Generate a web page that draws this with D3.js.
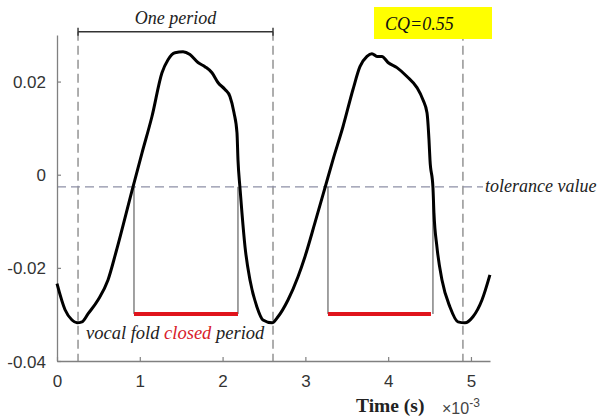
<!DOCTYPE html>
<html><head><meta charset="utf-8">
<script src="https://cdn.jsdelivr.net/npm/d3@7"></script>
<style>
html,body{margin:0;padding:0;background:#fff;}
svg{display:block;}
</style></head>
<body><svg id="c" width="601" height="418"></svg>
<script>
// time in units of 1e-3 s
const timeMs = [0,0.097,0.181,0.242,0.302,0.374,0.495,0.616,0.713,0.918,1.027,1.147,1.268,1.341,1.425,1.522,1.606,1.703,1.787,1.872,1.944,2.029,2.089,2.138,2.174,2.186,2.210,2.234,2.271,2.331,2.415,2.488,2.597,2.669,2.790,2.911,2.995,3.116,3.237,3.333,3.454,3.575,3.659,3.744,3.804,3.865,3.925,3.998,4.106,4.227,4.348,4.420,4.469,4.493,4.505,4.541,4.553,4.589,4.650,4.746,4.843,4.928,5.024,5.133,5.229];
const signal = [-0.0234,-0.0290,-0.0312,-0.0318,-0.0316,-0.0299,-0.0269,-0.0226,-0.0166,-0.0026,0.0047,0.0125,0.0219,0.0247,0.0262,0.0264,0.0258,0.0241,0.0232,0.0219,0.0198,0.0183,0.0168,0.0133,0.0090,0.0032,-0.0028,-0.0082,-0.0155,-0.0226,-0.0284,-0.0312,-0.0318,-0.0305,-0.0269,-0.0219,-0.0176,-0.0103,-0.0028,0.0032,0.0103,0.0183,0.0232,0.0254,0.0260,0.0254,0.0254,0.0241,0.0230,0.0211,0.0187,0.0161,0.0133,0.0075,0.0032,-0.0028,-0.0082,-0.0155,-0.0226,-0.0284,-0.0316,-0.0318,-0.0305,-0.0269,-0.0215];
const xTicks = [0,1,2,3,4,5];
const xTickLabels = ["0","1","2","3","4","5"];
const yTicks = [-0.04,-0.02,0,0.02];
const yTickLabels = ["-0.04","-0.02","0","0.02"];
const periodMarks = [0.254, 2.609, 4.903];
const closedStarts = [0.93, 3.273];
const closedEnds = [2.186, 4.541];
const closedBarEnds = [2.186, 4.517];
const toleranceValue = -0.0026;
const closedBarValue = -0.0299;
const bracketValue = 0.0307;

const svg = d3.select("#c");
const x = d3.scaleLinear().domain([0, 5.23]).range([57, 490]);
const y = d3.scaleLinear().domain([-0.04, 0.03]).range([361, 35]);
const axisCol = "#808080";
const labCol = "#333";

// period dashed verticals
svg.selectAll(".pm").data(periodMarks).enter().append("line")
  .attr("x1", d => x(d)).attr("x2", d => x(d))
  .attr("y1", y(bracketValue)).attr("y2", y(-0.04))
  .attr("stroke", "#8c8c8c").attr("stroke-width", 1.4).attr("stroke-dasharray", "9,5");

// tolerance dashed line
svg.append("line").attr("x1", x(0)).attr("x2", 483)
  .attr("y1", y(toleranceValue)).attr("y2", y(toleranceValue))
  .attr("stroke", "#8d90a6").attr("stroke-width", 1.3).attr("stroke-dasharray", "9,5");

// closed period verticals + red bars
closedStarts.forEach((s, i) => {
  [s, closedEnds[i]].forEach(t => {
    svg.append("line").attr("x1", x(t)).attr("x2", x(t))
      .attr("y1", y(toleranceValue)).attr("y2", y(closedBarValue))
      .attr("stroke", "#444").attr("stroke-width", 1);
  });
  svg.append("line").attr("x1", x(s)).attr("x2", x(closedBarEnds[i]))
    .attr("y1", y(closedBarValue)).attr("y2", y(closedBarValue))
    .attr("stroke", "#e0141c").attr("stroke-width", 4);
});

// axes
const xAxis = d3.axisBottom(x).tickValues(xTicks).tickFormat((d, i) => xTickLabels[i]).tickSizeInner(-4).tickSizeOuter(0).tickPadding(14);
const gx = svg.append("g").attr("transform", `translate(0,${y(-0.04)})`).call(xAxis);
const yAxis = d3.axisLeft(y).tickValues(yTicks).tickFormat((d, i) => yTickLabels[i]).tickSizeInner(-4).tickSizeOuter(0).tickPadding(11);
const gy = svg.append("g").attr("transform", `translate(${x(0)},0)`).call(yAxis);
[gx, gy].forEach(g => {
  g.select(".domain").attr("stroke", axisCol).attr("stroke-width", 1.3);
  g.selectAll(".tick line").attr("stroke", axisCol).attr("stroke-width", 1.2);
  g.selectAll(".tick text").attr("fill", labCol).style("font-family", "Arial, 'Liberation Sans', sans-serif").style("font-size", "17px");
});
gy.selectAll(".tick text").attr("dy", "0.36em");

// curve
const pts = timeMs.map((t, i) => [t, signal[i]]);
svg.append("path").datum(pts)
  .attr("d", d3.line().x(d => x(d[0])).y(d => y(d[1])).curve(d3.curveMonotoneX))
  .attr("fill", "none").attr("stroke", "#000").attr("stroke-width", 3).attr("stroke-linejoin", "round");

// One period bracket
const by = y(bracketValue);
svg.append("line").attr("x1", x(periodMarks[0])).attr("x2", x(periodMarks[1])).attr("y1", by).attr("y2", by).attr("stroke", "#333").attr("stroke-width", 1.4);
[periodMarks[0], periodMarks[1]].forEach(t => {
  svg.append("line").attr("x1", x(t)).attr("x2", x(t)).attr("y1", by - 4).attr("y2", by + 4).attr("stroke", "#333").attr("stroke-width", 1.4);
});
const serif = "'Liberation Serif', 'Times New Roman', serif";
svg.append("text").attr("x", (x(periodMarks[0]) + x(periodMarks[1])) / 2 + 0).attr("y", 24)
  .attr("text-anchor", "middle").style("font-family", serif).style("font-style", "italic").style("font-size", "18px").attr("fill", "#222").text("One period");

// CQ box
svg.append("rect").attr("x", 374).attr("y", 7).attr("width", 118).attr("height", 32).attr("fill", "#ffff00");
svg.append("text").attr("x", 385).attr("y", 30).style("font-family", serif).style("font-style", "italic").style("font-size", "18px").attr("fill", "#111").text("CQ=0.55");

// tolerance label
svg.append("text").attr("x", 485).attr("y", 192).style("font-family", serif).style("font-style", "italic").style("font-size", "18px").attr("fill", "#222").text("tolerance value");

// closed period label
const t2 = svg.append("text").attr("x", 86).attr("y", 339).style("font-family", serif).style("font-style", "italic").style("font-size", "18.5px").attr("fill", "#222");
t2.append("tspan").text("vocal fold ");
t2.append("tspan").attr("fill", "#d8202a").text("closed");
t2.append("tspan").text(" period");

// x label
svg.append("text").attr("x", 356).attr("y", 412).style("font-family", serif).style("font-weight", "bold").style("font-size", "19.5px").attr("fill", "#222").text("Time (s)");
const ex = svg.append("text").attr("x", 442).attr("y", 414).style("font-family", "Arial, 'Liberation Sans', sans-serif").style("font-size", "16px").attr("fill", "#444");
ex.append("tspan").text("\u00d710");
ex.append("tspan").attr("dy", -7).style("font-size", "12px").text("-3");
</script></body></html>
